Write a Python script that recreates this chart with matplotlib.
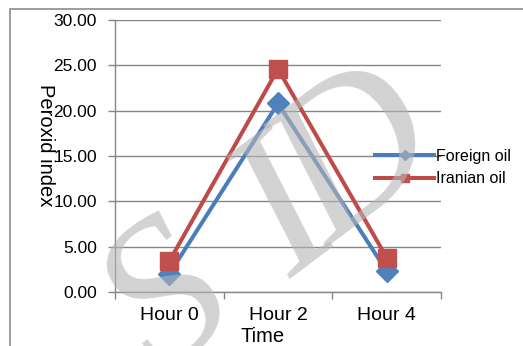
import matplotlib
matplotlib.use("Agg")
import matplotlib.pyplot as plt
from matplotlib.lines import Line2D
from matplotlib.patches import Rectangle
import numpy as np

plt.rcParams['font.family'] = ['Liberation Sans', 'DejaVu Sans']

categories = ["Hour 0", "Hour 2", "Hour 4"]
series_names = ["Foreign oil", "Iranian oil"]
foreign_oil = [2.0, 20.8, 2.3]
iranian_oil = [3.4, 24.6, 3.8]
y_ticks = [0, 5, 10, 15, 20, 25, 30]

blue = "#4A7EBB"
red = "#BE4B48"
grid_grey = "#868686"

W, H = 523, 346
fig = plt.figure(figsize=(W / 100, H / 100), dpi=100)

# outer chart frame (top and left edges visible)
fig.patches.append(Rectangle((10 / W, -0.1), 1.2, 1 - 9 / H + 0.1,
                             transform=fig.transFigure, fill=False,
                             edgecolor="#8c8c8c", linewidth=1.2))

ax = fig.add_axes([115 / W, 1 - 292 / H, (441 - 115) / W, (292 - 20) / H])
x = np.arange(len(categories))

ax.plot(x, foreign_oil, color=blue, linewidth=2.9, marker="D",
        markersize=11, markerfacecolor="#4F81BD", markeredgecolor="#4F81BD",
        zorder=3)
ax.plot(x, iranian_oil, color=red, linewidth=2.9, marker="s",
        markersize=13.5, markerfacecolor="#C0504D", markeredgecolor="#C0504D",
        zorder=4)

ax.set_xlim(-0.5, len(categories) - 0.5)
ax.set_ylim(0, 30)
ax.set_yticks(y_ticks)
ax.set_yticklabels([f"{v:.2f}" for v in y_ticks])
ax.yaxis.grid(True, color=grid_grey, linewidth=1.0)
ax.set_axisbelow(True)

ax.set_xticks(np.arange(len(categories) + 1) - 0.5)
ax.set_xticklabels([])
ax.set_xticks(x, minor=True)
ax.set_xticklabels(categories, minor=True)
ax.tick_params(axis="x", which="major", direction="out", length=5,
               color=grid_grey, width=1)
ax.tick_params(axis="x", which="minor", length=0, pad=11, labelsize=14)
ax.tick_params(axis="y", direction="out", length=5, color=grid_grey,
               width=1, pad=8, labelsize=12.5)

for side in ("top", "right"):
    ax.spines[side].set_visible(False)
for side in ("left", "bottom"):
    ax.spines[side].set_color(grid_grey)
    ax.spines[side].set_linewidth(1)

fig.text(45 / W, 1 - 145 / H, "Peroxid index", rotation=270,
         ha="center", va="center", fontsize=14.5)
fig.text(263 / W, 1 - 342 / H, "Time", ha="center", va="baseline",
         fontsize=14.5)

handles = [
    Line2D([], [], color=blue, linewidth=2.9, marker="D", markersize=5,
           markerfacecolor="#4F81BD", markeredgecolor="#4F81BD"),
    Line2D([], [], color=red, linewidth=2.9, marker="s", markersize=6,
           markerfacecolor="#C0504D", markeredgecolor="#C0504D"),
]
fig.legend(handles, series_names, loc="center left",
           bbox_to_anchor=(375 / W, 1 - 167.5 / H),
           bbox_transform=fig.transFigure, frameon=False, fontsize=11.5,
           handlelength=3.7, handletextpad=0.1, borderpad=0,
           borderaxespad=0, labelspacing=0.5)

# watermark letters, placed one by one along a rising diagonal
for letter, (px, py) in zip("SID", [(170, 305), (288, 218), (358, 163)]):
    fig.text(px / W, 1 - py / H, letter, fontsize=150,
             family="Liberation Serif", style="italic", rotation=37,
             rotation_mode="anchor", color="#b5b5b5", alpha=0.6,
             ha="center", va="center", zorder=10, clip_on=False)

fig.savefig("out.png", dpi=100)
